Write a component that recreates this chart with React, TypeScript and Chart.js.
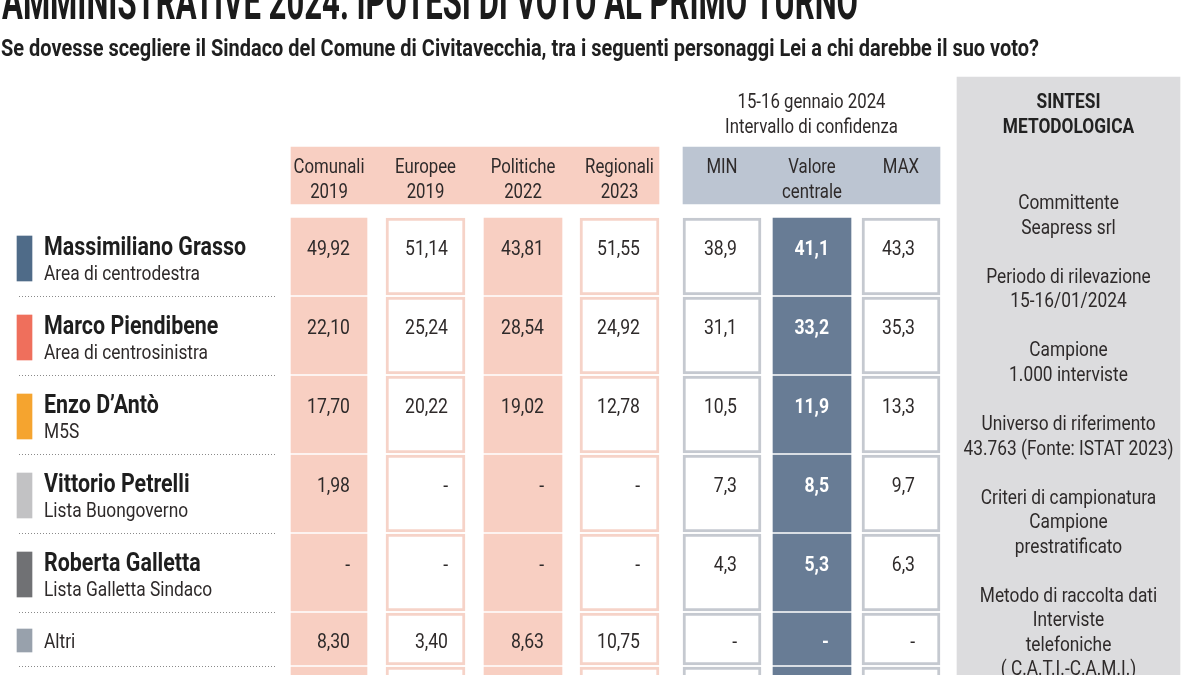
import React, { useEffect, useRef } from "react";
import { Chart, registerables } from "chart.js";

Chart.register(...registerables);

// ---------------- DATA ----------------
const TITLE = "AMMINISTRATIVE 2024: IPOTESI DI VOTO AL PRIMO TURNO";
const SUBTITLE =
  "Se dovesse scegliere il Sindaco del Comune di Civitavecchia, tra i seguenti personaggi Lei a chi darebbe il suo voto?";
const POLL_HEAD = ["15-16 gennaio 2024", "Intervallo di confidenza"];

const candidates = [
  "Massimiliano Grasso",
  "Marco Piendibene",
  "Enzo D\u2019Ant\u00f2",
  "Vittorio Petrelli",
  "Roberta Galletta",
  "Altri",
  "",
];
const coalitions = [
  "Area di centrodestra",
  "Area di centrosinistra",
  "M5S",
  "Lista Buongoverno",
  "Lista Galletta Sindaco",
  "",
  "",
];

const historicHeaders = [
  ["Comunali", "2019"],
  ["Europee", "2019"],
  ["Politiche", "2022"],
  ["Regionali", "2023"],
];
const pollHeaders = [["MIN"], ["Valore", "centrale"], ["MAX"]];

const comunali2019 = [49.92, 22.1, 17.7, 1.98, null, 8.3];
const europee2019 = [51.14, 25.24, 20.22, null, null, 3.4];
const politiche2022 = [43.81, 28.54, 19.02, null, null, 8.63];
const regionali2023 = [51.55, 24.92, 12.78, null, null, 10.75];
const pollMin = [38.9, 31.1, 10.5, 7.3, 4.3, null];
const pollCentral = [41.1, 33.2, 11.9, 8.5, 5.3, null];
const pollMax = [43.3, 35.3, 13.3, 9.7, 6.3, null];

const methodologyTitle = ["SINTESI", "METODOLOGICA"];
const methodology = [
  ["Committente", "Seapress srl"],
  ["Periodo di rilevazione", "15-16/01/2024"],
  ["Campione", "1.000 interviste"],
  ["Universo di riferimento", "43.763 (Fonte: ISTAT 2023)"],
  ["Criteri di campionatura", "Campione", "prestratificato"],
  ["Metodo di raccolta dati", "Interviste", "telefoniche", "( C.A.T.I.-C.A.M.I.)"],
];

// ---------------- LAYOUT & STYLE ----------------
const W = 1200;
const H = 675;
const FONT = "Roboto, 'Noto Sans', sans-serif";
const COL_LEFT = [291, 386, 484, 580, 683, 773, 862];
const COL_RIGHT = [367, 465, 562, 659, 761, 851, 940];
const TEXT_INSET = [17, 17, 18, 19, 24, 22, 25];
const DECIMALS = [2, 2, 2, 2, 1, 1, 1];
const ROW_TOP0 = 218;
const ROW_GAP = 2;
const ROW_H = [77, 77, 77, 77, 77, 52, 77];
const HEAD_TOP = 147;
const HEAD_BOTTOM = 204;
const PANEL = { left: 957, right: 1180, top: 77, bottom: 675 };
const MARKER = { left: 17, right: 32 };

const PINK = "#f8cfc2";
const PINK_LINE = "#f6d3c8";
const BLUE_HEAD = "#bcc5d2";
const SLATE = "#687c95";
const GRAY_LINE = "#c5c9d0";
const PANEL_BG = "#dcdcde";
const TEXT = "#2e2a2a";

const COL_STYLE = [
  { bg: PINK, border: PINK, bw: 0, bold: false, color: TEXT },
  { bg: "#ffffff", border: PINK_LINE, bw: 3, bold: false, color: TEXT },
  { bg: PINK, border: PINK, bw: 0, bold: false, color: TEXT },
  { bg: "#ffffff", border: PINK_LINE, bw: 3, bold: false, color: TEXT },
  { bg: "#ffffff", border: GRAY_LINE, bw: 3, bold: false, color: TEXT },
  { bg: SLATE, border: SLATE, bw: 0, bold: true, color: "#ffffff" },
  { bg: "#ffffff", border: GRAY_LINE, bw: 3, bold: false, color: TEXT },
];
const MARKER_COLORS = ["#4f6b88", "#ef6f5c", "#f5a42f", "#c2c2c4", "#707174", "#98a1ac", "rgba(0,0,0,0)"];

const columns = [comunali2019, europee2019, politiche2022, regionali2023, pollMin, pollCentral, pollMax];

const rowTops: number[] = [];
{
  let t = ROW_TOP0;
  ROW_H.forEach((h) => {
    rowTops.push(t);
    t += h + ROW_GAP;
  });
}
const isShort = (r: number) => ROW_H[r] < 60;

const fmt = (v: number, d: number) => v.toFixed(d).replace(".", ",");

function drawText(
  ctx: CanvasRenderingContext2D,
  text: string,
  x: number,
  y: number,
  font: string,
  sx: number,
  align: CanvasTextAlign,
  color: string
) {
  ctx.save();
  ctx.font = font;
  ctx.fillStyle = color;
  ctx.textAlign = align;
  ctx.textBaseline = "alphabetic";
  ctx.translate(x, y);
  ctx.scale(sx, 1);
  ctx.fillText(text, 0, 0);
  ctx.restore();
}

function fitScale(ctx: CanvasRenderingContext2D, font: string, ref: string, target: number) {
  ctx.save();
  ctx.font = font;
  const w = ctx.measureText(ref).width;
  ctx.restore();
  return w > 0 ? target / w : 1;
}

const tablePlugin = {
  id: "tableText",
  afterDatasetsDraw(chart: any) {
    const ctx: CanvasRenderingContext2D = chart.ctx;
    const xs = chart.scales.x;
    const ys = chart.scales.y;
    const px = (v: number) => xs.getPixelForValue(v);
    const py = (v: number) => ys.getPixelForValue(v);

    const F = {
      title: `700 52px ${FONT}`,
      sub: `700 23px ${FONT}`,
      name: `700 25px ${FONT}`,
      area: `400 20px ${FONT}`,
      num: `400 21px ${FONT}`,
      numB: `700 21px ${FONT}`,
      head: `400 20px ${FONT}`,
      headB: `700 20px ${FONT}`,
    };
    const S = {
      title: fitScale(ctx, F.title, TITLE, 856),
      sub: fitScale(ctx, F.sub, SUBTITLE, 1038),
      name: fitScale(ctx, F.name, "Massimiliano Grasso", 202),
      area: fitScale(ctx, F.area, "Area di centrodestra", 156),
      num: fitScale(ctx, F.num, "49,92", 43),
      head: fitScale(ctx, F.head, "Comunali", 71),
      panel: fitScale(ctx, F.head, "43.763 (Fonte: ISTAT 2023)", 210),
    };

    // Title & subtitle
    drawText(ctx, TITLE, px(2), py(19), F.title, S.title, "left", "#1b1b1b");
    drawText(ctx, SUBTITLE, px(1), py(56), F.sub, S.sub, "left", "#1f1f1f");

    // Poll header
    const pollCenter = (COL_LEFT[4] + COL_RIGHT[6]) / 2;
    POLL_HEAD.forEach((t, i) => drawText(ctx, t, px(pollCenter), py(108 + i * 25), F.head, S.head, "center", TEXT));

    // Column headers
    historicHeaders.forEach((lines, c) => {
      const cx = (COL_LEFT[c] + COL_RIGHT[c]) / 2;
      lines.forEach((t, i) => drawText(ctx, t, px(cx), py(173 + i * 25), F.head, S.head, "center", TEXT));
    });
    pollHeaders.forEach((lines, k) => {
      const c = k + 4;
      const cx = (COL_LEFT[c] + COL_RIGHT[c]) / 2;
      lines.forEach((t, i) => drawText(ctx, t, px(cx), py(173 + i * 25), F.head, S.head, "center", TEXT));
    });

    // Row labels and separators
    candidates.forEach((name, r) => {
      const top = rowTops[r];
      if (name) {
        if (isShort(r)) {
          drawText(ctx, name, px(44), py(top + 35), F.area, S.area, "left", TEXT);
        } else {
          drawText(ctx, name, px(44), py(top + 37), F.name, S.name, "left", "#1e1e1e");
          drawText(ctx, coalitions[r], px(44), py(top + 62), F.area, S.area, "left", TEXT);
        }
      }
      if (r > 0) {
        ctx.save();
        ctx.strokeStyle = "#8a8a8a";
        ctx.lineWidth = 1;
        ctx.setLineDash([1, 2]);
        ctx.beginPath();
        const yy = Math.round(py(top - 1)) + 0.5;
        ctx.moveTo(px(19), yy);
        ctx.lineTo(px(277), yy);
        ctx.stroke();
        ctx.restore();
      }
    });

    // Cell values
    columns.forEach((vals, c) => {
      const st = COL_STYLE[c];
      vals.forEach((v, r) => {
        const top = rowTops[r];
        const base = top + (isShort(r) ? 35 : 37);
        const txt = v === null || v === undefined ? "-" : fmt(v, DECIMALS[c]);
        drawText(ctx, txt, px(COL_RIGHT[c] - TEXT_INSET[c]), py(base), st.bold ? F.numB : F.num, S.num, "right", st.color);
      });
    });

    // Methodology panel
    const pcx = (PANEL.left + PANEL.right) / 2;
    methodologyTitle.forEach((t, i) => drawText(ctx, t, px(pcx), py(108 + i * 25), F.headB, S.panel, "center", "#222"));
    let line = 0;
    methodology.forEach((group) => {
      group.forEach((t) => {
        drawText(ctx, t, px(pcx), py(209 + line * 24.55), F.head, S.panel, "center", TEXT);
        line++;
      });
      line++;
    });
  },
};

export default function App() {
  const ref = useRef<HTMLCanvasElement | null>(null);

  useEffect(() => {
    if (!ref.current) return;

    const rect = (cx: number, top: number, bottom: number) => ({ x: cx, y: [top, bottom] });

    const bandDatasets = [
      {
        label: "panel",
        data: [rect((PANEL.left + PANEL.right) / 2, PANEL.top, PANEL.bottom)],
        backgroundColor: PANEL_BG,
        barThickness: PANEL.right - PANEL.left,
      },
      {
        label: "historic header",
        data: [rect((COL_LEFT[0] + COL_RIGHT[3]) / 2, HEAD_TOP, HEAD_BOTTOM)],
        backgroundColor: PINK,
        barThickness: COL_RIGHT[3] - COL_LEFT[0],
      },
      {
        label: "poll header",
        data: [rect((COL_LEFT[4] + COL_RIGHT[6]) / 2, HEAD_TOP, HEAD_BOTTOM)],
        backgroundColor: BLUE_HEAD,
        barThickness: COL_RIGHT[6] - COL_LEFT[4],
      },
    ].map((d) => ({ ...d, borderWidth: 0, grouped: false, borderSkipped: false }));

    const cellDatasets = columns.map((_, c) => ({
      label: `col${c}`,
      data: candidates.map((__, r) =>
        rect((COL_LEFT[c] + COL_RIGHT[c]) / 2, rowTops[r], rowTops[r] + ROW_H[r])
      ),
      backgroundColor: COL_STYLE[c].bg,
      borderColor: COL_STYLE[c].border,
      borderWidth: COL_STYLE[c].bw,
      barThickness: COL_RIGHT[c] - COL_LEFT[c],
      grouped: false,
      borderSkipped: false,
    }));

    const markerDataset = {
      label: "markers",
      data: candidates.map((_, r) =>
        isShort(r)
          ? rect((MARKER.left + MARKER.right) / 2, rowTops[r] + 16, rowTops[r] + 39)
          : rect((MARKER.left + MARKER.right) / 2, rowTops[r] + 18, rowTops[r] + 63)
      ),
      backgroundColor: MARKER_COLORS,
      borderWidth: 0,
      barThickness: MARKER.right - MARKER.left,
      grouped: false,
      borderSkipped: false,
    };

    const chart = new Chart(ref.current, {
      type: "bar",
      data: { datasets: [markerDataset, ...cellDatasets, ...bandDatasets] as any },
      options: {
        responsive: false,
        animation: false,
        events: [],
        layout: { padding: 0 },
        plugins: { legend: { display: false }, tooltip: { enabled: false }, title: { display: false } },
        scales: {
          x: { type: "linear", min: 0, max: W, display: false, offset: false, grid: { display: false } },
          y: { type: "linear", min: 0, max: H, reverse: true, display: false, grid: { display: false } },
        },
      } as any,
      plugins: [tablePlugin],
    });
    return () => chart.destroy();
  }, []);

  return (
    <div style={{ position: "absolute", left: 0, top: 0, width: W, height: H, background: "#ffffff" }}>
      <canvas ref={ref} width={W} height={H} style={{ display: "block" }} />
    </div>
  );
}
